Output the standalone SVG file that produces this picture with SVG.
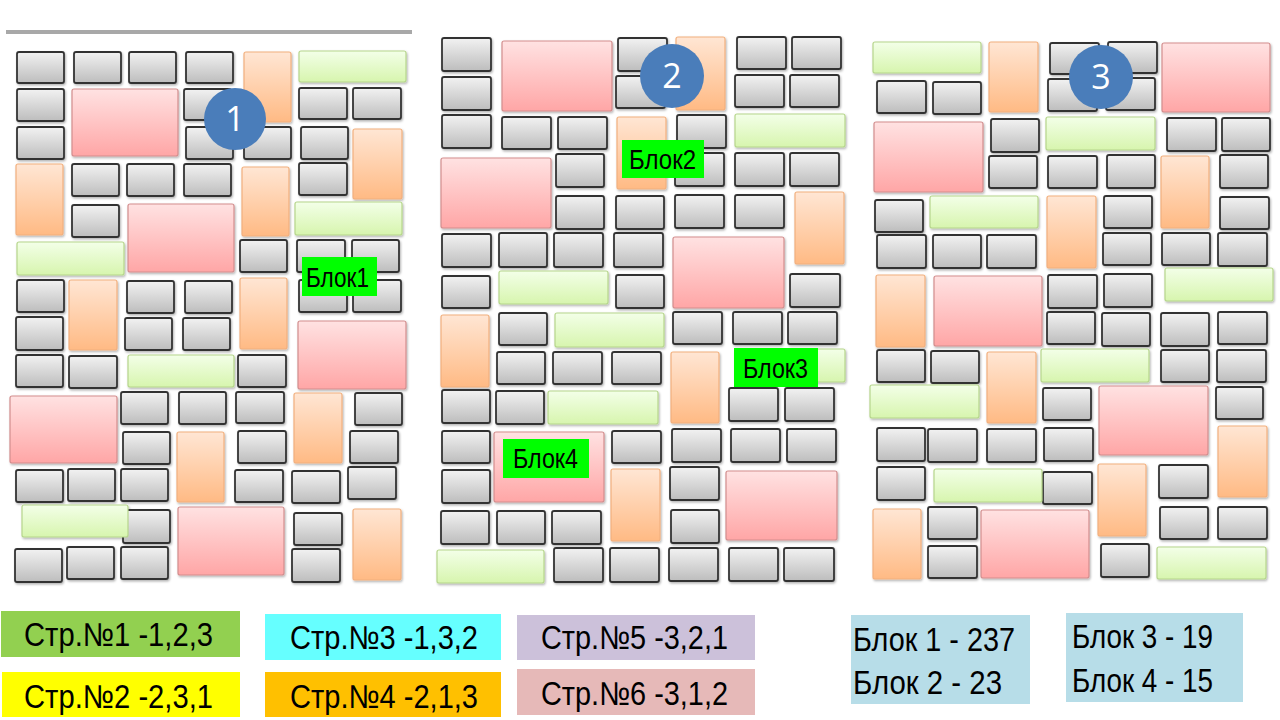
<svg xmlns="http://www.w3.org/2000/svg" width="1280" height="720" viewBox="0 0 1280 720">
<style>
.g{fill:url(#gg);stroke:#333333;stroke-width:1.8}
.p{fill:url(#gp);stroke:#d38e8e;stroke-width:1.2}
.o{fill:url(#go);stroke:#f2b07e;stroke-width:1.2}
.l{fill:url(#gl);stroke:#b6d68c;stroke-width:1.2}
.c{fill:#4a7dba}
.cn{font-family:"Open Sans","Liberation Sans",Arial,sans-serif;font-size:34px;fill:#ffffff;text-anchor:middle}
.bl{fill:#00ff00}
.bt{font-family:"Liberation Sans Narrow","Liberation Sans",Arial,sans-serif;font-size:27px;fill:#000000}
.lt{font-family:"Liberation Sans Narrow","Liberation Sans",Arial,sans-serif;font-size:33px;fill:#000000}
.kt{font-family:"Liberation Sans Narrow","Liberation Sans",Arial,sans-serif;font-size:33px;fill:#000000}
</style>
<defs>
<linearGradient id="gg" x1="0" y1="0" x2="0" y2="1"><stop offset="0" stop-color="#f2f2f2"/><stop offset="1" stop-color="#bdbdbd"/></linearGradient>
<linearGradient id="gp" x1="0" y1="0" x2="0" y2="1"><stop offset="0" stop-color="#ffe2e2"/><stop offset="1" stop-color="#ffa6a6"/></linearGradient>
<linearGradient id="go" x1="0" y1="0" x2="0" y2="1"><stop offset="0" stop-color="#ffe6d4"/><stop offset="1" stop-color="#ffba84"/></linearGradient>
<linearGradient id="gl" x1="0" y1="0" x2="0" y2="1"><stop offset="0" stop-color="#f3ffe8"/><stop offset="1" stop-color="#d7f5ae"/></linearGradient>
<filter id="sh" x="-5%" y="-5%" width="110%" height="110%"><feDropShadow dx="1" dy="1.5" stdDeviation="1" flood-color="#000" flood-opacity="0.3"/></filter>
</defs>
<rect width="1280" height="720" fill="#ffffff"/>
<line x1="6" y1="32" x2="412" y2="32" stroke="#a8a8a8" stroke-width="4"/>

<g id="panel1" filter="url(#sh)">
<rect class="g" x="17" y="52" width="47" height="31" rx="2"/>
<rect class="g" x="74" y="52" width="47" height="31" rx="2"/>
<rect class="g" x="129" y="52" width="47" height="31" rx="2"/>
<rect class="g" x="186" y="52" width="47" height="31" rx="2"/>
<rect class="g" x="17" y="89" width="47" height="32" rx="2"/>
<rect class="g" x="184" y="89" width="47" height="31" rx="2"/>
<rect class="g" x="299" y="88" width="48" height="31" rx="2"/>
<rect class="g" x="353" y="88" width="48" height="31" rx="2"/>
<rect class="g" x="17" y="127" width="47" height="32" rx="2"/>
<rect class="g" x="186" y="127" width="47" height="32" rx="2"/>
<rect class="g" x="244" y="127" width="47" height="32" rx="2"/>
<rect class="g" x="301" y="127" width="47" height="32" rx="2"/>
<rect class="g" x="72" y="164" width="47" height="32" rx="2"/>
<rect class="g" x="127" y="164" width="47" height="32" rx="2"/>
<rect class="g" x="184" y="164" width="47" height="32" rx="2"/>
<rect class="g" x="299" y="163" width="48" height="32" rx="2"/>
<rect class="g" x="72" y="205" width="47" height="32" rx="2"/>
<rect class="g" x="240" y="240" width="47" height="32" rx="2"/>
<rect class="g" x="297" y="240" width="48" height="32" rx="2"/>
<rect class="g" x="352" y="240" width="47" height="32" rx="2"/>
<rect class="g" x="17" y="280" width="47" height="32" rx="2"/>
<rect class="g" x="127" y="281" width="47" height="32" rx="2"/>
<rect class="g" x="185" y="281" width="47" height="32" rx="2"/>
<rect class="g" x="299" y="280" width="48" height="32" rx="2"/>
<rect class="g" x="353" y="280" width="48" height="32" rx="2"/>
<rect class="g" x="16" y="317" width="47" height="33" rx="2"/>
<rect class="g" x="125" y="318" width="47" height="32" rx="2"/>
<rect class="g" x="183" y="318" width="47" height="32" rx="2"/>
<rect class="g" x="16" y="355" width="47" height="32" rx="2"/>
<rect class="g" x="69" y="356" width="48" height="32" rx="2"/>
<rect class="g" x="238" y="355" width="48" height="32" rx="2"/>
<rect class="g" x="121" y="392" width="47" height="32" rx="2"/>
<rect class="g" x="179" y="392" width="47" height="32" rx="2"/>
<rect class="g" x="236" y="392" width="48" height="31" rx="2"/>
<rect class="g" x="355" y="393" width="47" height="32" rx="2"/>
<rect class="g" x="123" y="432" width="47" height="32" rx="2"/>
<rect class="g" x="238" y="431" width="48" height="32" rx="2"/>
<rect class="g" x="350" y="431" width="48" height="32" rx="2"/>
<rect class="g" x="16" y="470" width="47" height="32" rx="2"/>
<rect class="g" x="68" y="469" width="47" height="32" rx="2"/>
<rect class="g" x="121" y="469" width="47" height="32" rx="2"/>
<rect class="g" x="235" y="470" width="48" height="32" rx="2"/>
<rect class="g" x="292" y="471" width="48" height="32" rx="2"/>
<rect class="g" x="348" y="467" width="48" height="32" rx="2"/>
<rect class="g" x="123" y="510" width="47" height="33" rx="2"/>
<rect class="g" x="294" y="513" width="48" height="32" rx="2"/>
<rect class="g" x="15" y="549" width="47" height="33" rx="2"/>
<rect class="g" x="67" y="547" width="47" height="32" rx="2"/>
<rect class="g" x="121" y="547" width="47" height="32" rx="2"/>
<rect class="g" x="292" y="549" width="48" height="33" rx="2"/>
<rect class="o" x="244" y="52" width="47" height="70" rx="2"/>
<rect class="o" x="353" y="129" width="49" height="70" rx="2"/>
<rect class="o" x="16" y="164" width="47" height="71" rx="2"/>
<rect class="o" x="242" y="167" width="47" height="69" rx="2"/>
<rect class="o" x="69" y="280" width="48" height="70" rx="2"/>
<rect class="o" x="240" y="278" width="47" height="71" rx="2"/>
<rect class="o" x="294" y="393" width="48" height="70" rx="2"/>
<rect class="o" x="177" y="432" width="47" height="70" rx="2"/>
<rect class="o" x="353" y="509" width="48" height="71" rx="2"/>
<rect class="p" x="72" y="89" width="106" height="67" rx="2"/>
<rect class="p" x="128" y="204" width="106" height="68" rx="2"/>
<rect class="p" x="298" y="321" width="108" height="68" rx="2"/>
<rect class="p" x="10" y="396" width="107" height="67" rx="2"/>
<rect class="p" x="178" y="507" width="106" height="68" rx="2"/>
<rect class="l" x="299" y="51" width="107" height="31" rx="2"/>
<rect class="l" x="295" y="202" width="107" height="33" rx="2"/>
<rect class="l" x="17" y="242" width="107" height="33" rx="2"/>
<rect class="l" x="128" y="355" width="106" height="32" rx="2"/>
<rect class="l" x="22" y="505" width="106" height="32" rx="2"/>
</g>

<g id="panel2" filter="url(#sh)">
<rect class="g" x="442" y="38" width="49" height="33" rx="2"/>
<rect class="g" x="618" y="38" width="49" height="33" rx="2"/>
<rect class="g" x="737" y="37" width="49" height="32" rx="2"/>
<rect class="g" x="792" y="37" width="49" height="32" rx="2"/>
<rect class="g" x="442" y="77" width="49" height="33" rx="2"/>
<rect class="g" x="616" y="76" width="49" height="32" rx="2"/>
<rect class="g" x="735" y="75" width="49" height="32" rx="2"/>
<rect class="g" x="790" y="75" width="49" height="32" rx="2"/>
<rect class="g" x="442" y="115" width="49" height="33" rx="2"/>
<rect class="g" x="502" y="117" width="49" height="32" rx="2"/>
<rect class="g" x="558" y="117" width="49" height="32" rx="2"/>
<rect class="g" x="677" y="115" width="49" height="33" rx="2"/>
<rect class="g" x="556" y="154" width="48" height="33" rx="2"/>
<rect class="g" x="675" y="153" width="49" height="33" rx="2"/>
<rect class="g" x="735" y="153" width="49" height="33" rx="2"/>
<rect class="g" x="790" y="153" width="49" height="33" rx="2"/>
<rect class="g" x="556" y="196" width="48" height="33" rx="2"/>
<rect class="g" x="616" y="196" width="48" height="33" rx="2"/>
<rect class="g" x="675" y="195" width="49" height="33" rx="2"/>
<rect class="g" x="735" y="195" width="49" height="33" rx="2"/>
<rect class="g" x="442" y="234" width="49" height="33" rx="2"/>
<rect class="g" x="499" y="233" width="48" height="34" rx="2"/>
<rect class="g" x="554" y="233" width="49" height="34" rx="2"/>
<rect class="g" x="614" y="233" width="49" height="34" rx="2"/>
<rect class="g" x="790" y="274" width="50" height="33" rx="2"/>
<rect class="g" x="442" y="276" width="48" height="32" rx="2"/>
<rect class="g" x="616" y="275" width="48" height="33" rx="2"/>
<rect class="g" x="499" y="313" width="48" height="32" rx="2"/>
<rect class="g" x="673" y="312" width="49" height="32" rx="2"/>
<rect class="g" x="733" y="312" width="49" height="32" rx="2"/>
<rect class="g" x="788" y="312" width="49" height="32" rx="2"/>
<rect class="g" x="497" y="352" width="48" height="32" rx="2"/>
<rect class="g" x="553" y="352" width="49" height="32" rx="2"/>
<rect class="g" x="612" y="352" width="49" height="32" rx="2"/>
<rect class="g" x="442" y="390" width="48" height="33" rx="2"/>
<rect class="g" x="496" y="391" width="48" height="33" rx="2"/>
<rect class="g" x="729" y="388" width="49" height="33" rx="2"/>
<rect class="g" x="785" y="388" width="49" height="33" rx="2"/>
<rect class="g" x="442" y="431" width="48" height="32" rx="2"/>
<rect class="g" x="612" y="431" width="49" height="32" rx="2"/>
<rect class="g" x="672" y="429" width="49" height="33" rx="2"/>
<rect class="g" x="731" y="429" width="49" height="33" rx="2"/>
<rect class="g" x="787" y="429" width="49" height="33" rx="2"/>
<rect class="g" x="442" y="470" width="48" height="33" rx="2"/>
<rect class="g" x="670" y="467" width="49" height="33" rx="2"/>
<rect class="g" x="441" y="511" width="48" height="33" rx="2"/>
<rect class="g" x="497" y="511" width="48" height="33" rx="2"/>
<rect class="g" x="552" y="511" width="49" height="33" rx="2"/>
<rect class="g" x="671" y="510" width="48" height="33" rx="2"/>
<rect class="g" x="554" y="548" width="49" height="34" rx="2"/>
<rect class="g" x="610" y="548" width="49" height="34" rx="2"/>
<rect class="g" x="669" y="548" width="49" height="33" rx="2"/>
<rect class="g" x="729" y="548" width="49" height="33" rx="2"/>
<rect class="g" x="784" y="548" width="50" height="33" rx="2"/>
<rect class="o" x="676" y="37" width="49" height="73" rx="2"/>
<rect class="o" x="617" y="117" width="49" height="72" rx="2"/>
<rect class="o" x="795" y="192" width="49" height="72" rx="2"/>
<rect class="o" x="441" y="315" width="48" height="72" rx="2"/>
<rect class="o" x="671" y="352" width="48" height="71" rx="2"/>
<rect class="o" x="611" y="469" width="49" height="72" rx="2"/>
<rect class="p" x="502" y="41" width="110" height="70" rx="2"/>
<rect class="p" x="441" y="158" width="110" height="70" rx="2"/>
<rect class="p" x="673" y="237" width="111" height="71" rx="2"/>
<rect class="p" x="494" y="432" width="110" height="70" rx="2"/>
<rect class="p" x="726" y="471" width="111" height="69" rx="2"/>
<rect class="l" x="735" y="114" width="110" height="33" rx="2"/>
<rect class="l" x="499" y="271" width="109" height="33" rx="2"/>
<rect class="l" x="555" y="313" width="109" height="34" rx="2"/>
<rect class="l" x="735" y="349" width="110" height="33" rx="2"/>
<rect class="l" x="548" y="391" width="110" height="33" rx="2"/>
<rect class="l" x="437" y="550" width="107" height="33" rx="2"/>
</g>

<g id="panel3" filter="url(#sh)">
<rect class="g" x="1050" y="43" width="49" height="31" rx="2"/>
<rect class="g" x="1108" y="42" width="49" height="31" rx="2"/>
<rect class="g" x="877" y="81" width="49" height="32" rx="2"/>
<rect class="g" x="933" y="82" width="48" height="32" rx="2"/>
<rect class="g" x="1048" y="79" width="49" height="32" rx="2"/>
<rect class="g" x="1106" y="78" width="49" height="32" rx="2"/>
<rect class="g" x="991" y="119" width="48" height="33" rx="2"/>
<rect class="g" x="1167" y="118" width="49" height="33" rx="2"/>
<rect class="g" x="1222" y="118" width="48" height="33" rx="2"/>
<rect class="g" x="989" y="156" width="48" height="32" rx="2"/>
<rect class="g" x="1048" y="156" width="49" height="32" rx="2"/>
<rect class="g" x="1107" y="155" width="48" height="33" rx="2"/>
<rect class="g" x="1220" y="155" width="48" height="33" rx="2"/>
<rect class="g" x="875" y="200" width="48" height="32" rx="2"/>
<rect class="g" x="1104" y="196" width="48" height="32" rx="2"/>
<rect class="g" x="1220" y="197" width="49" height="32" rx="2"/>
<rect class="g" x="877" y="235" width="49" height="33" rx="2"/>
<rect class="g" x="933" y="235" width="48" height="33" rx="2"/>
<rect class="g" x="987" y="235" width="49" height="33" rx="2"/>
<rect class="g" x="1103" y="233" width="48" height="32" rx="2"/>
<rect class="g" x="1162" y="233" width="48" height="32" rx="2"/>
<rect class="g" x="1218" y="233" width="49" height="33" rx="2"/>
<rect class="g" x="1048" y="275" width="49" height="33" rx="2"/>
<rect class="g" x="1104" y="274" width="48" height="33" rx="2"/>
<rect class="g" x="1047" y="312" width="48" height="32" rx="2"/>
<rect class="g" x="1102" y="313" width="48" height="33" rx="2"/>
<rect class="g" x="1161" y="313" width="48" height="33" rx="2"/>
<rect class="g" x="1218" y="312" width="49" height="32" rx="2"/>
<rect class="g" x="877" y="350" width="48" height="32" rx="2"/>
<rect class="g" x="931" y="351" width="48" height="32" rx="2"/>
<rect class="g" x="1161" y="350" width="48" height="32" rx="2"/>
<rect class="g" x="1217" y="350" width="49" height="32" rx="2"/>
<rect class="g" x="1043" y="388" width="48" height="32" rx="2"/>
<rect class="g" x="1216" y="387" width="47" height="32" rx="2"/>
<rect class="g" x="877" y="428" width="48" height="33" rx="2"/>
<rect class="g" x="928" y="429" width="49" height="33" rx="2"/>
<rect class="g" x="987" y="429" width="49" height="33" rx="2"/>
<rect class="g" x="1044" y="428" width="49" height="33" rx="2"/>
<rect class="g" x="877" y="467" width="48" height="33" rx="2"/>
<rect class="g" x="1043" y="472" width="49" height="32" rx="2"/>
<rect class="g" x="1159" y="465" width="49" height="33" rx="2"/>
<rect class="g" x="928" y="507" width="49" height="32" rx="2"/>
<rect class="g" x="1160" y="507" width="48" height="32" rx="2"/>
<rect class="g" x="1218" y="507" width="49" height="32" rx="2"/>
<rect class="g" x="928" y="546" width="49" height="32" rx="2"/>
<rect class="g" x="1101" y="544" width="48" height="33" rx="2"/>
<rect class="o" x="989" y="42" width="49" height="70" rx="2"/>
<rect class="o" x="1161" y="156" width="48" height="72" rx="2"/>
<rect class="o" x="1047" y="196" width="49" height="72" rx="2"/>
<rect class="o" x="876" y="275" width="49" height="72" rx="2"/>
<rect class="o" x="987" y="352" width="49" height="71" rx="2"/>
<rect class="o" x="1218" y="426" width="49" height="71" rx="2"/>
<rect class="o" x="1098" y="464" width="48" height="72" rx="2"/>
<rect class="o" x="873" y="509" width="48" height="70" rx="2"/>
<rect class="p" x="1162" y="43" width="108" height="69" rx="2"/>
<rect class="p" x="874" y="122" width="109" height="70" rx="2"/>
<rect class="p" x="934" y="276" width="108" height="70" rx="2"/>
<rect class="p" x="1099" y="386" width="109" height="69" rx="2"/>
<rect class="p" x="981" y="510" width="108" height="68" rx="2"/>
<rect class="l" x="873" y="42" width="108" height="31" rx="2"/>
<rect class="l" x="1046" y="117" width="109" height="33" rx="2"/>
<rect class="l" x="930" y="196" width="108" height="32" rx="2"/>
<rect class="l" x="1165" y="268" width="108" height="33" rx="2"/>
<rect class="l" x="1041" y="349" width="108" height="33" rx="2"/>
<rect class="l" x="870" y="385" width="109" height="33" rx="2"/>
<rect class="l" x="934" y="469" width="108" height="33" rx="2"/>
<rect class="l" x="1157" y="547" width="109" height="32" rx="2"/>
</g>

<g id="marker1"><circle class="c" cx="235" cy="119" r="31"/><text class="cn" x="235" y="131">1</text></g>
<g id="marker2"><circle class="c" cx="672" cy="76" r="32"/><text class="cn" x="672" y="88">2</text></g>
<g id="marker3"><circle class="c" cx="1101" cy="77" r="32"/><text class="cn" x="1101" y="89">3</text></g>

<g id="label-blok1"><rect class="bl" x="302" y="257" width="75" height="39"/><text class="bt" x="306" y="287" textLength="63" lengthAdjust="spacingAndGlyphs">Блок1</text></g>
<g id="label-blok2"><rect class="bl" x="622" y="140" width="82" height="38"/><text class="bt" x="629" y="169" textLength="67" lengthAdjust="spacingAndGlyphs">Блок2</text></g>
<g id="label-blok3"><rect class="bl" x="734" y="348" width="84" height="39"/><text class="bt" x="743" y="378" textLength="65" lengthAdjust="spacingAndGlyphs">Блок3</text></g>
<g id="label-blok4"><rect class="bl" x="503" y="439" width="86" height="39"/><text class="bt" x="513" y="468" textLength="65" lengthAdjust="spacingAndGlyphs">Блок4</text></g>

<g id="legend-str1"><rect x="1" y="611" width="239" height="46" fill="#92d050"/><text class="lt" x="24" y="646" textLength="189" lengthAdjust="spacingAndGlyphs">Стр.№1 -1,2,3</text></g>
<g id="legend-str2"><rect x="2" y="672" width="238" height="45" fill="#ffff00"/><text class="lt" x="24" y="708" textLength="189" lengthAdjust="spacingAndGlyphs">Стр.№2 -2,3,1</text></g>
<g id="legend-str3"><rect x="265" y="614" width="236" height="46" fill="#66ffff"/><text class="lt" x="290" y="649" textLength="188" lengthAdjust="spacingAndGlyphs">Стр.№3 -1,3,2</text></g>
<g id="legend-str4"><rect x="265" y="672" width="236" height="45" fill="#ffc000"/><text class="lt" x="290" y="708" textLength="188" lengthAdjust="spacingAndGlyphs">Стр.№4 -2,1,3</text></g>
<g id="legend-str5"><rect x="517" y="615" width="238" height="45" fill="#ccc1da"/><text class="lt" x="541" y="649" textLength="187" lengthAdjust="spacingAndGlyphs">Стр.№5 -3,2,1</text></g>
<g id="legend-str6"><rect x="517" y="669" width="238" height="46" fill="#e6b9b8"/><text class="lt" x="541" y="705" textLength="187" lengthAdjust="spacingAndGlyphs">Стр.№6 -3,1,2</text></g>

<g id="legend-blok12"><rect x="851" y="615" width="179" height="89" fill="#b7dde8"/><text class="kt" x="853" y="651" textLength="162" lengthAdjust="spacingAndGlyphs">Блок 1 - 237</text><text class="kt" x="853" y="694" textLength="149" lengthAdjust="spacingAndGlyphs">Блок 2 - 23</text></g>
<g id="legend-blok34"><rect x="1066" y="613" width="177" height="89" fill="#b7dde8"/><text class="kt" x="1072" y="648" textLength="141" lengthAdjust="spacingAndGlyphs">Блок 3 - 19</text><text class="kt" x="1072" y="692" textLength="141" lengthAdjust="spacingAndGlyphs">Блок 4 - 15</text></g>
</svg>
